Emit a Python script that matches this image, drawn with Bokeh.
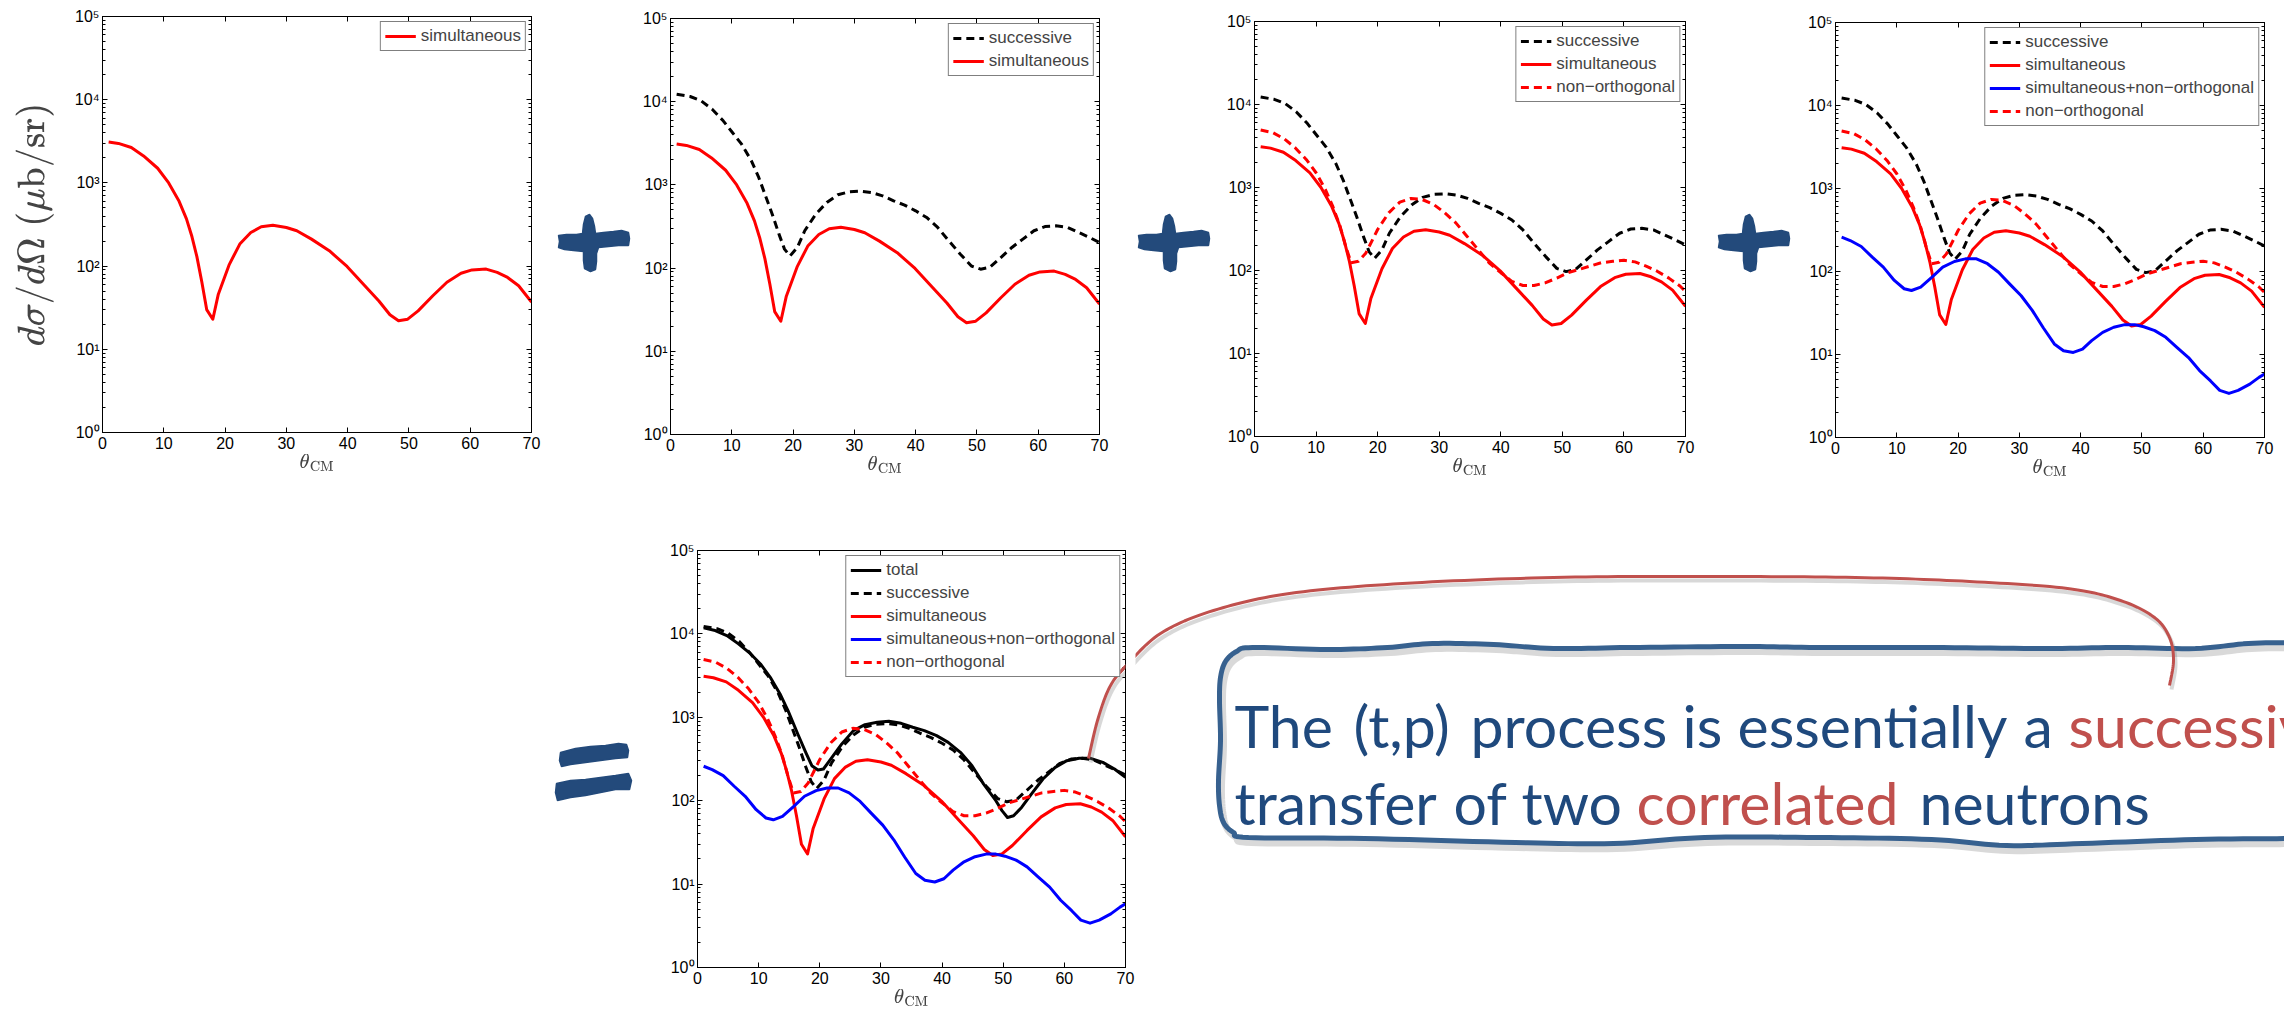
import numpy as np
from bokeh.plotting import figure
from bokeh.layouts import row, column
from bokeh.models import (Range1d, Legend, LegendItem, LinearAxis, LogAxis, FixedTicker,
                          LogTicker, CustomJSTickFormatter, PolyAnnotation)
from bokeh.core.properties import value
from bokeh.embed import file_html
from bokeh.resources import INLINE

# ---------------------------------------------------------------------------
# Differential cross sections dσ/dΩ (μb/sr) against θ_CM (deg)
# ---------------------------------------------------------------------------
theta_sim = [1.0, 2.6, 4.7, 6.7, 9.0, 10.8, 12.5, 13.7, 14.6, 15.4, 16.2, 17.0, 18.0, 18.9,
             20.7, 22.4, 24.2, 25.9, 27.8, 30.0, 31.7, 34.1, 37.0, 39.9, 42.8, 45.1, 46.9,
             48.3, 49.8, 51.5, 53.9, 56.2, 58.5, 60.3, 62.6, 64.4, 66.1, 67.9, 70.0]
sigma_sim = [3100, 2980, 2660, 2110, 1500, 1000, 600, 370, 225, 130, 65, 30, 23, 46,
             105, 184, 253, 297, 310, 291, 266, 211, 153, 99, 58, 38, 26,
             22, 23, 29, 44, 64, 82, 90, 92, 84, 73, 58, 37]

theta_succ = [1.0, 3.2, 5.0, 6.8, 8.6, 10.1, 11.6, 13.2, 14.4, 15.6, 16.6, 17.7, 18.6, 19.5,
              20.7, 21.9, 23.7, 25.5, 27.3, 29.1, 31.0, 32.8, 34.6, 36.4, 38.2, 40.0, 41.8,
              43.6, 45.4, 47.3, 49.1, 50.6, 52.1, 53.9, 55.7, 57.5, 59.3, 61.1, 62.9, 64.8,
              66.6, 68.4, 70.0]
sigma_succ = [12300, 11550, 10240, 8130, 5890, 4260, 3090, 1950, 1230, 706, 445, 256, 169, 140,
              177, 281, 445, 614, 760, 826, 841, 811, 739, 644, 571, 488, 406,
              308, 213, 147, 106, 97, 102, 134, 177, 223, 281, 316, 322, 308,
              268, 233, 203]

theta_non = [1.0, 3.0, 4.8, 6.6, 8.4, 10.0, 11.5, 12.7, 13.9, 14.8, 15.7, 16.9, 18.1, 20.0,
             21.8, 23.6, 25.4, 27.2, 29.1, 30.9, 32.7, 34.5, 36.3, 38.1, 40.0, 41.8, 43.6,
             45.4, 47.2, 49.1, 50.9, 52.7, 54.5, 56.3, 58.2, 60.0, 61.8, 63.6, 65.4, 67.3,
             69.1, 70.0]
sigma_non = [4930, 4575, 3870, 3015, 2180, 1506, 948, 597, 342, 196, 124, 129, 163, 312,
             495, 666, 738, 718, 625, 495, 375, 259, 179, 124, 94, 74, 66,
             66, 71, 81, 94, 103, 113, 124, 129, 133, 127, 113, 98, 81,
             65, 56]

theta_simnon = [1.0, 2.4, 4.2, 6.0, 7.8, 9.6, 11.2, 12.4, 13.9, 15.7, 17.5, 19.4, 21.2, 23.0,
                24.8, 26.6, 28.4, 30.3, 32.1, 33.9, 35.7, 37.2, 38.8, 40.3, 41.8, 43.6, 45.4,
                47.2, 48.8, 50.3, 52.1, 53.9, 55.7, 57.6, 59.4, 61.2, 62.7, 64.2, 65.7, 67.6,
                69.1, 70.0]
sigma_simnon = [259, 236, 200, 149, 113, 78, 62, 59, 65, 85, 113, 132, 142, 142,
                124, 98, 71, 51, 34, 21, 13.4, 11.1, 10.6, 11.6, 14.7, 18.5, 21.3,
                22.9, 22.9, 21.6, 19.4, 16.1, 12.2, 9.2, 6.4, 4.8, 3.7, 3.4, 3.7, 4.4,
                5.3, 5.8]

theta_tot = [1.0, 2.9, 4.8, 6.7, 8.7, 10.3, 11.9, 13.5, 14.8, 16.4, 17.7, 18.7, 19.7, 20.6,
             21.6, 23.6, 25.5, 27.4, 29.4, 31.3, 33.3, 35.2, 37.1, 39.1, 41.0, 43.0, 44.9,
             46.8, 48.8, 49.8, 50.7, 51.7, 53.0, 54.6, 56.5, 58.5, 60.4, 62.4, 64.3, 66.3,
             68.2, 70.0]
sigma_tot = [11800, 10960, 9550, 7590, 5750, 4365, 3020, 1905, 1202, 631, 380, 263, 233, 240,
             302, 479, 692, 817, 871, 895, 847, 759, 692, 603, 501, 380, 263,
             158, 100, 76, 63, 66, 83, 120, 182, 251, 302, 322, 322, 288,
             240, 191]

x_ticks = [0, 10, 20, 30, 40, 50, 60, 70]

# key -> (theta, sigma, legend label, colour, dash)
SERIES = {
    "tot": (theta_tot, sigma_tot, "total", "black", "solid"),
    "succ": (theta_succ, sigma_succ, "successive", "black", "8 5"),
    "sim": (theta_sim, sigma_sim, "simultaneous", "#ff0000", "solid"),
    "simnon": (theta_simnon, sigma_simnon, "simultaneous+non\u2212orthogonal", "#0000ff", "solid"),
    "non": (theta_non, sigma_non, "non\u2212orthogonal", "#ff0000", "8 5"),
}

TICK_FONT = "Liberation Sans"
INK = "#234a7b"          # brush strokes
BOX = "#37618f"          # callout frame
TEXT_BLUE = "#1f497d"
TEXT_RED = "#c0504d"

POW10_JS = """
const sup = ['\u2070','\u00b9','\u00b2','\u00b3','\u2074','\u2075','\u2076','\u2077','\u2078','\u2079'];
const e = Math.round(Math.log10(tick));
return '10' + String(e).split('').map(function(c){ return sup[parseInt(c)]; }).join('');
"""


def free_frame(p):
    # every figure keeps its own borders instead of lining up with its neighbours
    try:
        p.frame_align = False
    except AttributeError:
        pass


def make_panel(keys, left, top, right, bottom, frame_w=429, frame_h=416, ylabel=None):
    p = figure(frame_width=frame_w, frame_height=frame_h,
               x_range=Range1d(0, 70), y_range=Range1d(1, 1e5), y_axis_type="log",
               min_border_left=left, min_border_right=right,
               min_border_top=top, min_border_bottom=bottom, title=None,
               output_backend="svg", toolbar_location=None)
    free_frame(p)
    p.grid.visible = False
    p.outline_line_color = "black"
    p.outline_line_width = 1
    p.background_fill_color = "white"
    p.border_fill_color = "white"

    blank = CustomJSTickFormatter(code="return '';")
    p.add_layout(LinearAxis(formatter=blank), "above")
    p.add_layout(LogAxis(formatter=blank), "right")

    for ax in p.axis:
        ax.major_tick_in = 5
        ax.major_tick_out = 0
        ax.minor_tick_in = 3
        ax.minor_tick_out = 0
        ax.axis_line_color = "black"
        ax.major_tick_line_color = "black"
        ax.minor_tick_line_color = "black"
        ax.major_label_text_font = TICK_FONT
        ax.major_label_text_font_size = "16px"
        ax.major_label_text_color = "black"
    for ax in p.xaxis:
        ax.ticker = FixedTicker(ticks=x_ticks)
        ax.minor_tick_line_color = None
    for ax in p.yaxis:
        ax.ticker = LogTicker(num_minor_ticks=10)
    p.above[0].major_label_standoff = 0
    p.right[0].major_label_standoff = 0

    p.left[0].formatter = CustomJSTickFormatter(code=POW10_JS)
    p.left[0].major_label_standoff = 3
    p.below[0].major_label_standoff = 4

    p.below[0].axis_label = r"$$\theta_{\mathrm{CM}}$$"
    p.below[0].axis_label_text_font_size = "17px"
    p.below[0].axis_label_standoff = 2
    if ylabel:
        p.left[0].axis_label = ylabel
        p.left[0].axis_label_text_font_size = "32px"
        p.left[0].axis_label_standoff = 18

    items = []
    for k in keys:
        th, sg, lab, col, dash = SERIES[k]
        r = p.line(th, sg, line_color=col, line_width=3, line_dash=dash, line_join="round")
        items.append(LegendItem(label=lab, renderers=[r]))
    legend = Legend(items=items, location="top_right", margin=5, padding=4, spacing=3,
                    glyph_width=31, glyph_height=18, label_height=18, label_standoff=5,
                    label_text_font=TICK_FONT, label_text_font_size="17px",
                    border_line_color="black", border_line_width=1,
                    background_fill_color="white", background_fill_alpha=1.0)
    p.add_layout(legend)
    return p


def blank_fig(x0, x1, y0, y1):
    # plain drawing surface whose data units are page pixels (y grows downwards)
    p = figure(frame_width=int(x1 - x0), frame_height=int(y1 - y0),
               x_range=Range1d(x0, x1), y_range=Range1d(y1, y0),
               min_border=0, x_axis_location=None, y_axis_location=None, title=None,
               output_backend="svg", toolbar_location=None)
    free_frame(p)
    p.grid.visible = False
    p.outline_line_color = None
    p.background_fill_color = "white"
    p.border_fill_color = "white"
    return p


def catmull_rom(pts, n=14):
    P = np.asarray(pts, dtype=float)
    P = np.vstack([P[0], P, P[-1]])
    out = []
    for i in range(1, len(P) - 2):
        p0, p1, p2, p3 = P[i - 1], P[i], P[i + 1], P[i + 2]
        for t in np.linspace(0, 1, n, endpoint=False):
            out.append(0.5 * (2 * p1 + (-p0 + p2) * t
                              + (2 * p0 - 5 * p1 + 4 * p2 - p3) * t * t
                              + (-p0 + 3 * p1 - 3 * p2 + p3) * t ** 3))
    out.append(P[-2])
    return np.array(out)


# ---------------------------------------------------------------------------
# top row: four panels joined by "+" strokes
# ---------------------------------------------------------------------------
ROW1_H = 484
p1 = make_panel(["sim"], left=102, top=16, right=10, bottom=52,
                ylabel=r"$$d\sigma/d\Omega\;(\mu\mathrm{b/sr})$$")
p2 = make_panel(["succ", "sim"], left=34, top=18, right=10, bottom=50)
p3 = make_panel(["succ", "sim", "non"], left=38, top=21, right=10, bottom=48, frame_w=431, frame_h=415)
p4 = make_panel(["succ", "sim", "simnon", "non"], left=39, top=22, right=20, bottom=47, frame_h=415)

# hand-drawn plus sign outline: x offset from its left tip, absolute y
PLUS_OUTLINE = [(27, 216), (31, 214), (34, 218), (36, 226), (37, 233), (45, 232), (55, 231),
                (63, 230), (70, 232), (71, 238), (70, 245), (60, 245), (50, 246), (40, 247),
                (38, 253), (38, 261), (37, 269), (32, 271), (26, 268), (25, 260), (25, 251),
                (15, 250), (6, 249), (0, 247), (1, 241), (0, 235), (8, 234), (18, 234),
                (24, 233), (25, 224)]


def plus_fig(x0, x1, tip):
    f = blank_fig(x0, x1, 0, ROW1_H)
    f.patch([tip + dx for dx, _ in PLUS_OUTLINE], [y for _, y in PLUS_OUTLINE],
            fill_color=INK, line_color=INK, line_width=1.5)
    return f


plus1 = plus_fig(541, 636, 558)
plus2 = plus_fig(1109, 1216, 1138)
plus3 = plus_fig(1695, 1796, 1718)

# ---------------------------------------------------------------------------
# bottom row: "=" , full decomposition, callout
# ---------------------------------------------------------------------------
Y0 = ROW1_H
eq = blank_fig(0, 660, Y0, 1012)
EQ_TOP = [(560, 752), (575, 748), (590, 746), (605, 745), (618, 743), (626, 744), (628, 750),
          (627, 757), (615, 758), (600, 760), (585, 762), (570, 764), (561, 766), (559, 760)]
EQ_BOT = [(556, 783), (570, 780), (585, 779), (600, 777), (615, 775), (628, 773), (631, 780),
          (629, 789), (615, 789), (600, 792), (585, 795), (570, 797), (557, 800), (555, 792)]
for shape in (EQ_TOP, EQ_BOT):
    eq.patch([x for x, _ in shape], [y for _, y in shape], fill_color=INK, line_color=INK, line_width=1.5)

p5 = make_panel(["tot", "succ", "sim", "simnon", "non"], left=37, top=66, right=10, bottom=45,
                frame_w=428, frame_h=417)

# page geometry of the last panel's frame, used to carry the callout leader across figures
F5_LEFT, F5_TOP, F5_W, F5_H = 697, 550, 428, 417


def page_to_p5(px, py):
    th = (np.asarray(px) - F5_LEFT) / F5_W * 70.0
    sg = 10 ** (5.0 - (np.asarray(py) - F5_TOP) / F5_H * 5.0)
    return th, sg


# leader curve from the successive-dominated bump at 64 deg to the word "successive"
LEADER = [(1088, 758), (1097, 720), (1109, 687), (1125, 666), (1160, 633), (1213, 610),
          (1289, 593), (1402, 583), (1553, 577), (1704, 576), (1855, 577), (1969, 581),
          (2067, 588), (2120, 600), (2154, 617), (2169, 637), (2173, 660), (2169, 685)]
lead = catmull_rom(LEADER)
lx, ly = lead[:, 0], lead[:, 1]

th, sg = page_to_p5(lx + 2, ly + 4)
p5.line(th, sg, line_color="#7f7f7f", line_alpha=0.3, line_width=4)
th, sg = page_to_p5(lx, ly)
p5.line(th, sg, line_color=TEXT_RED, line_width=3)

# bridge of the leader through the panel's right margin
sel = (lx > 1118) & (lx < 1142)
bx, by = lx[sel], ly[sel]
ang = np.arctan2(np.gradient(by), np.gradient(bx))
nx, ny = -np.sin(ang) * 1.5, np.cos(ang) * 1.5
poly_x = np.concatenate([bx + nx, (bx - nx)[::-1]])
poly_y = np.concatenate([by + ny, (by - ny)[::-1]])
pth, psg = page_to_p5(poly_x, poly_y)
p5.add_layout(PolyAnnotation(xs=list(pth), ys=list(psg), fill_color=TEXT_RED, fill_alpha=1.0,
                             line_color=None))

CALL_X0 = 1135
call = blank_fig(CALL_X0, 2284, Y0, 1012)

# wavy rounded frame of the callout (runs off the right edge)
FRAME = [(2300, 642), (2248, 643), (2195, 648), (2120, 647), (2044, 648), (1931, 647), (1818, 647),
         (1742, 646), (1629, 647), (1553, 648), (1493, 644), (1432, 643), (1387, 647), (1327, 649),
         (1252, 647), (1236, 651), (1225, 661), (1220, 677), (1219, 700), (1220, 740), (1218, 780),
         (1219, 805), (1223, 822), (1233, 832), (1248, 837), (1364, 838), (1515, 842), (1613, 843),
         (1704, 837), (1818, 837), (1931, 839), (2006, 845), (2082, 843), (2195, 839), (2300, 838)]
fr = catmull_rom(FRAME, n=10)
call.line(fr[:, 0] + 3, fr[:, 1] + 5, line_color="#808080", line_alpha=0.3, line_width=7)
call.line(fr[:, 0], fr[:, 1], line_color=BOX, line_width=5, line_join="round")

call.line(lx + 2, ly + 4, line_color="#7f7f7f", line_alpha=0.3, line_width=4)
call.line(lx, ly, line_color=TEXT_RED, line_width=3)

words = ["The", "(t,p)", "process", "is", "essentially", "a", "successive",
         "transfer", "of", "two", "correlated", "neutrons"]
word_x = [1234, 1353, 1470, 1682, 1737, 2023, 2068,
          1234, 1453, 1521, 1636, 1919]
word_y = [725] * 7 + [802] * 5
word_c = [TEXT_BLUE] * 6 + [TEXT_RED] + [TEXT_BLUE] * 3 + [TEXT_RED, TEXT_BLUE]
call.text(x=word_x, y=word_y, text=words, text_color=word_c, text_font=value("Lato"),
          text_font_size="59px", text_baseline="alphabetic", text_align="left")

layout = column(row(p1, plus1, p2, plus2, p3, plus3, p4), row(eq, p5, call))

with open("out.html", "w", encoding="utf-8") as fh:
    fh.write(file_html(layout, INLINE, title="(t,p) cross sections"))
